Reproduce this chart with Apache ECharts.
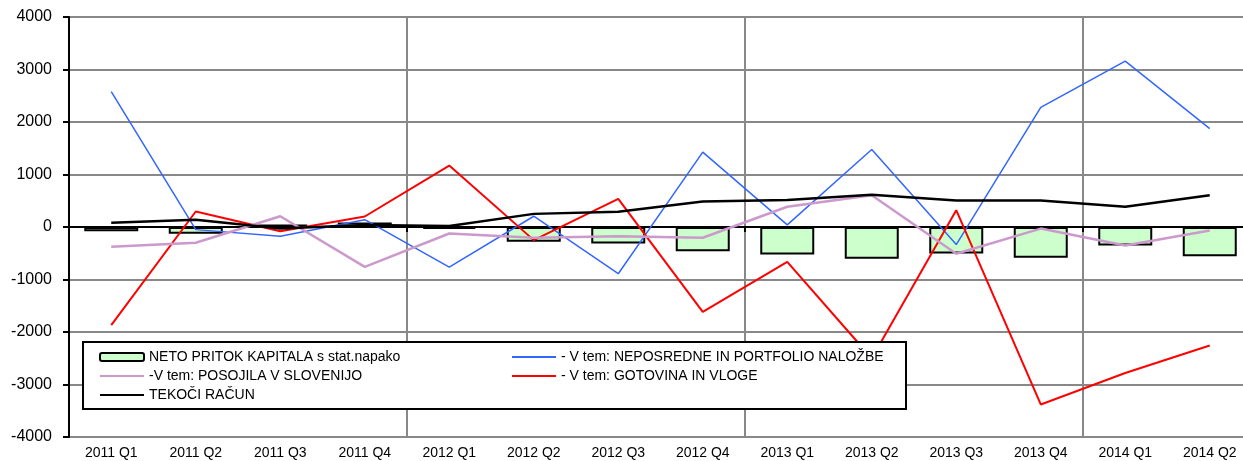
<!DOCTYPE html>
<html>
<head>
<meta charset="utf-8">
<script src="https://cdn.jsdelivr.net/npm/echarts@6/dist/echarts.min.js"></script>
<style>
  html, body { margin: 0; padding: 0; background: #fff; }
  .chart { width: 1243px; height: 461px; }
</style>
</head>
<body>
<div class="chart"></div>
<script>
const quarters = ['2011 Q1', '2011 Q2', '2011 Q3', '2011 Q4', '2012 Q1', '2012 Q2', '2012 Q3',
  '2012 Q4', '2013 Q1', '2013 Q2', '2013 Q3', '2013 Q4', '2014 Q1', '2014 Q2']

const netoPritok = [-80, -130, 50, 85, -35, -282, -314, -460, -524, -606, -505, -587, -352, -556]
const neposredne = [2580, -50, -175, 140, -765, 205, -890, 1425, 40, 1475, -335, 2280, 3160, 1875]
const gotovina = [-1870, 295, -80, 200, 1170, -250, 537, -1615, -663, -2500, 320, -3380, -2780, -2257]
const posojila = [-377, -300, 205, -760, -124, -205, -175, -205, 385, 605, -510, -30, -352, -67]
const tekoci = [80, 137, -30, 40, 20, 250, 290, 485, 515, 613, 505, 505, 385, 605]

const names = {
  neto: 'NETO PRITOK KAPITALA s stat.napako',
  nep: '- V tem: NEPOSREDNE IN PORTFOLIO NALOŽBE',
  pos: '-V tem: POSOJILA V SLOVENIJO',
  got: '- V tem: GOTOVINA IN VLOGE',
  tek: 'TEKOČI RAČUN'
}

const font = 'Arial, "Liberation Sans", sans-serif'
const chartDom = echarts.init(document.querySelector('.chart'))

// hide the circle echarts draws on line legend icons
function lineItem (name) {
  return { name: name, itemStyle: { opacity: 0 } }
}

const legendBase = {
  orient: 'vertical',
  top: 350,
  padding: 0,
  itemWidth: 44,
  itemHeight: 8,
  itemGap: 5,
  z: 20,
  selectedMode: false,
  textStyle: { fontFamily: font, fontSize: 14, color: '#000' }
}

const yearTick = (index) => index % 4 === 0

const option = {
  animation: false,
  backgroundColor: '#fff',
  // plot runs a little past the right edge, like the source picture
  grid: { left: 69, right: -9, top: 17, bottom: 24, outerBoundsMode: 'none', containLabel: false },
  graphic: {
    elements: [{
      type: 'rect',
      z: 10,
      shape: { x: 83, y: 342, width: 823, height: 67 },
      style: { fill: '#fff', stroke: '#000', lineWidth: 2 }
    }]
  },
  legend: [
    Object.assign({}, legendBase, { left: 99, data: [names.neto, lineItem(names.pos), lineItem(names.tek)] }),
    Object.assign({}, legendBase, { left: 511, data: [lineItem(names.nep), lineItem(names.got)] })
  ],
  xAxis: [
    {
      type: 'category',
      data: quarters,
      position: 'bottom',
      axisLine: { show: false, onZero: false },
      axisTick: { show: false },
      axisLabel: { fontFamily: font, fontSize: 14, color: '#000', margin: 9, interval: 0 },
      splitLine: { show: true, interval: yearTick, lineStyle: { color: '#888', width: 2 } }
    },
    {
      type: 'category',
      data: quarters,
      position: 'top',
      axisLine: { show: true, onZero: true, lineStyle: { color: '#000', width: 2 } },
      axisTick: { show: true, inside: true, interval: yearTick, length: 5, lineStyle: { color: '#000', width: 2 } },
      axisLabel: { show: false },
      splitLine: { show: false }
    }
  ],
  yAxis: {
    type: 'value',
    min: -4000,
    max: 4000,
    interval: 1000,
    axisLine: { show: true, lineStyle: { color: '#000', width: 2 } },
    axisTick: { show: true, length: 6, lineStyle: { color: '#000', width: 2 } },
    axisLabel: { fontFamily: font, fontSize: 16, color: '#000', margin: 17, formatter: (v) => String(v) },
    splitLine: { show: true, lineStyle: { color: '#888', width: 2 } }
  },
  series: [
    {
      name: names.neto,
      type: 'bar',
      data: netoPritok,
      barWidth: 54,
      itemStyle: { color: '#ccffcc', borderColor: '#000', borderWidth: 2 }
    },
    {
      name: names.nep,
      type: 'line',
      data: neposredne,
      symbol: 'none',
      lineStyle: { color: '#3366ff', width: 1.5 },
      itemStyle: { color: '#3366ff' }
    },
    {
      name: names.got,
      type: 'line',
      data: gotovina,
      symbol: 'none',
      lineStyle: { color: '#ff0000', width: 2 },
      itemStyle: { color: '#ff0000' }
    },
    {
      name: names.pos,
      type: 'line',
      data: posojila,
      symbol: 'none',
      lineStyle: { color: '#cc99cc', width: 2.5 },
      itemStyle: { color: '#cc99cc' }
    },
    {
      name: names.tek,
      type: 'line',
      data: tekoci,
      symbol: 'none',
      lineStyle: { color: '#000', width: 2.5 },
      itemStyle: { color: '#000' }
    }
  ]
}

chartDom.setOption(option)

window.onresize = () => {
  chartDom.resize()
}
</script>
</body>
</html>
